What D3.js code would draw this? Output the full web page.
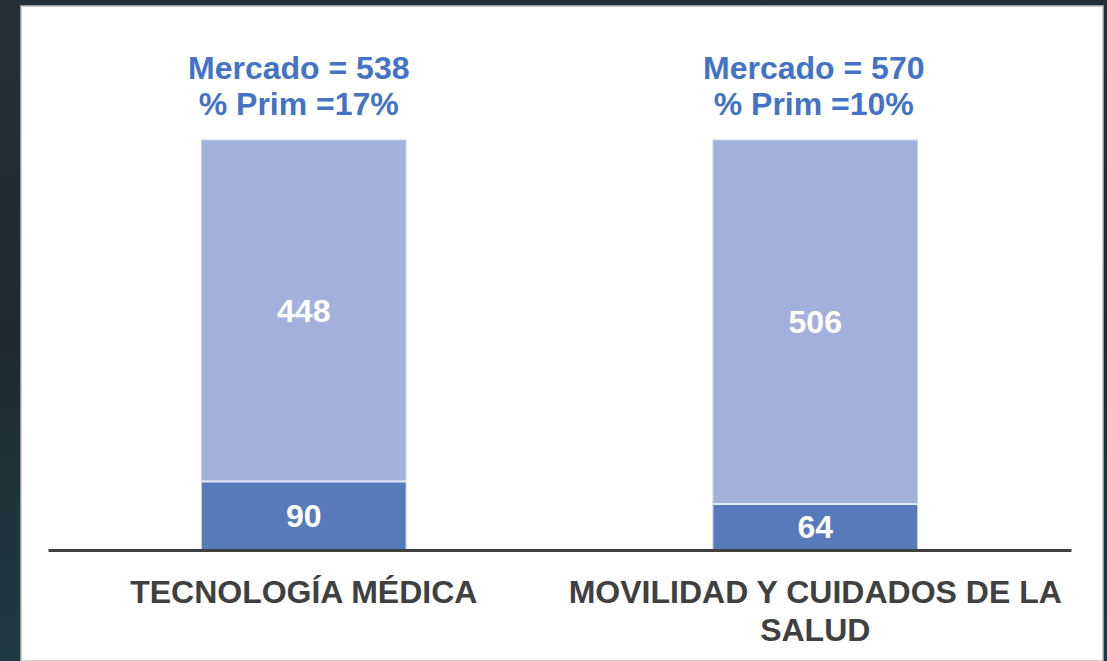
<!DOCTYPE html>
<html><head><meta charset="utf-8">
<script src="https://cdn.jsdelivr.net/npm/d3@7"></script>
<style>html,body{margin:0;padding:0;background:#1e272c;}svg{display:block;}</style>
</head><body>
<script>
const categories = ["TECNOLOGÍA MÉDICA", "MOVILIDAD Y CUIDADOS DE LA SALUD"];
const categoryLines = [["TECNOLOGÍA MÉDICA"], ["MOVILIDAD Y CUIDADOS DE LA", "SALUD"]];
const primValues = [90, 64];
const otherValues = [448, 506];
const marketTotals = [538, 570];
const primPercents = ["17%", "10%"];

const W = 1107, H = 661;
const svg = d3.select("body").append("svg").attr("width", W).attr("height", H);

const defs = svg.append("defs");
const g = defs.append("linearGradient").attr("id","bg").attr("x1","0").attr("y1","0").attr("x2","0").attr("y2","1");
g.append("stop").attr("offset","0").attr("stop-color","#243036");
g.append("stop").attr("offset","0.5").attr("stop-color","#1d2a30");
g.append("stop").attr("offset","1").attr("stop-color","#203a44");
svg.append("rect").attr("width",W).attr("height",H).attr("fill","url(#bg)");
svg.append("rect").attr("x",21).attr("y",6).attr("width",1082).attr("height",H-6).attr("fill","#ffffff")
  .attr("stroke","#bdbdbd").attr("stroke-width",1.5);

const baseY = 550, topY = 140;
const x = d3.scaleBand().domain(categories).range([48, 1071]).paddingInner(0.6).paddingOuter(0.3);
const y = d3.scaleLinear().domain([0, 1]).range([baseY, topY]);

const data = categories.map((c, i) => {
  const t = primValues[i] + otherValues[i];
  return {c, i, prim: primValues[i], other: otherValues[i], pf: primValues[i] / t};
});

const bw = x.bandwidth();
svg.selectAll("rect.other").data(data).enter().append("rect")
  .attr("x", d => x(d.c)).attr("y", y(1)).attr("width", bw)
  .attr("height", d => y(d.pf) - y(1))
  .attr("fill", "#a2b1db").attr("stroke", "#c9d2ec").attr("stroke-width", 1);
svg.selectAll("rect.prim").data(data).enter().append("rect")
  .attr("x", d => x(d.c)).attr("y", d => y(d.pf)).attr("width", bw)
  .attr("height", d => y(0) - y(d.pf))
  .attr("fill", "#577bba").attr("stroke", "#c9d2ec").attr("stroke-width", 1);
svg.selectAll("line.sep").data(data).enter().append("line")
  .attr("x1", d => x(d.c)).attr("x2", d => x(d.c) + bw)
  .attr("y1", d => y(d.pf)).attr("y2", d => y(d.pf))
  .attr("stroke", "#e6ebf6").attr("stroke-width", 2);

const font = "'Liberation Sans', Arial, sans-serif";
svg.selectAll("text.ov").data(data).enter().append("text")
  .attr("x", d => x(d.c) + bw/2).attr("y", d => (y(1) + y(d.pf))/2)
  .attr("dy", "0.35em").attr("text-anchor","middle")
  .attr("font-family", font).attr("font-weight","bold").attr("font-size", 32)
  .attr("fill","#ffffff").text(d => d.other);
svg.selectAll("text.pv").data(data).enter().append("text")
  .attr("x", d => x(d.c) + bw/2).attr("y", d => (y(0) + y(d.pf))/2)
  .attr("dy", "0.35em").attr("text-anchor","middle")
  .attr("font-family", font).attr("font-weight","bold").attr("font-size", 32)
  .attr("fill","#ffffff").text(d => d.prim);

data.forEach(d => {
  const cx = x(d.c) + bw/2 - (d.i === 0 ? 5 : 1.5);
  svg.append("text").attr("x", cx).attr("y", 68).attr("dy","0.35em").attr("text-anchor","middle")
    .attr("font-family", font).attr("font-weight","bold").attr("font-size", 32).attr("fill","#4472c4")
    .text("Mercado = " + marketTotals[d.i]);
  svg.append("text").attr("x", cx).attr("y", 104).attr("dy","0.35em").attr("text-anchor","middle")
    .attr("font-family", font).attr("font-weight","bold").attr("font-size", 32).attr("fill","#4472c4")
    .text("% Prim =" + primPercents[d.i]);
});

const axis = d3.axisBottom(x).tickSize(0).tickFormat("");
const ax = svg.append("g").attr("transform", `translate(0,${baseY})`).call(axis);
ax.select(".domain").attr("stroke","#404040").attr("stroke-width",3);

data.forEach(d => {
  const cx = x(d.c) + bw/2;
  categoryLines[d.i].forEach((ln, k) => {
    svg.append("text").attr("x", cx).attr("y", 592 + k*38).attr("dy","0.35em").attr("text-anchor","middle")
      .attr("font-family", font).attr("font-weight","bold").attr("font-size", 32).attr("fill","#404040")
      .text(ln);
  });
});
</script>
</body></html>
